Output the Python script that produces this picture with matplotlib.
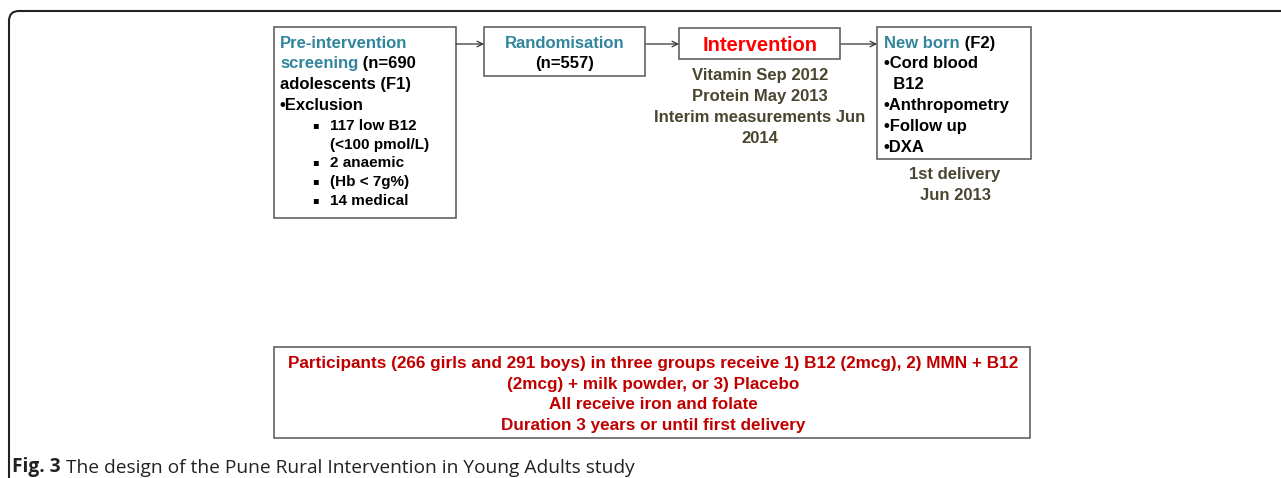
import matplotlib.pyplot as plt
from matplotlib.patches import Rectangle, FancyBboxPatch

# ---- text content ----
screen_head = "Pre-intervention"
screen_teal = "screening"
screen_black = " (n=690"
screen_lines = ["adolescents (F1)", "\u2022Exclusion"]
exclusions = [("\u25aa", "117 low B12"), ("", "(<100 pmol/L)"), ("\u25aa", "2 anaemic"),
              ("\u25aa", "(Hb < 7g%)"), ("\u25aa", "14 medical")]
rand_head = "Randomisation"
rand_n = "(n=557)"
interv_head = "Intervention"
interv_notes = ["Vitamin Sep 2012", "Protein May 2013", "Interim measurements Jun", "2014"]
newborn_teal = "New born"
newborn_black = " (F2)"
newborn_items = ["\u2022Cord blood", "  B12", "\u2022Anthropometry", "\u2022Follow up", "\u2022DXA"]
delivery_notes = ["1st delivery", "Jun 2013"]
groups_lines = ["Participants (266 girls and 291 boys) in three groups receive 1) B12 (2mcg), 2) MMN + B12",
                "(2mcg) + milk powder, or 3) Placebo",
                "All receive iron and folate",
                "Duration 3 years or until first delivery"]
caption_bold = "Fig. 3"
caption_rest = " The design of the Pune Rural Intervention in Young Adults study"

TEAL = "#31859c"
OLIVE = "#4a4530"
RED = "#ff0000"
DRED = "#c00000"
EDGE = "#555555"

W, H = 1281, 478
dpi = 100
fig = plt.figure(figsize=(W / dpi, H / dpi), dpi=dpi)
ax = fig.add_axes([0, 0, 1, 1])
ax.set_xlim(0, W)
ax.set_ylim(H, 0)
ax.axis("off")

sans = ["Liberation Sans", "DejaVu Sans"]

# outer rounded frame (runs off the right and bottom)
ax.add_patch(FancyBboxPatch((9, 11), 1400, 600, boxstyle="round,pad=0,rounding_size=10",
                            fill=False, ec="#222222", lw=1.5))

def box(x0, y0, x1, y1):
    ax.add_patch(Rectangle((x0, y0), x1 - x0, y1 - y0, fill=False, ec=EDGE, lw=1.1))

def arrow(x0, x1, y):
    ax.annotate("", xy=(x1, y), xytext=(x0, y),
                arrowprops=dict(arrowstyle="->", color="#333333", lw=0.9,
                                shrinkA=0, shrinkB=0, mutation_scale=10))

def two_tone(x, y, a, b, ca, cb, size):
    t = ax.text(x, y, a, color=ca, fontsize=size, fontweight="bold", family=sans,
                va="baseline", ha="left")
    ax.annotate(b, xy=(1, 0), xycoords=t, color=cb, fontsize=size, fontweight="bold",
                family=sans, va="bottom", ha="left")

# boxes
box(274, 27, 456, 218)
box(484, 27, 645, 76)
box(679, 28, 840, 59)
box(877, 27, 1031, 159)
box(274, 347, 1030, 438)

arrow(456, 484, 44)
arrow(646, 679, 44)
arrow(841, 877, 44)

# screening box
ax.text(280, 48, screen_head, color=TEAL, fontsize=12, fontweight="bold", family=sans)
two_tone(280, 68, screen_teal, screen_black, TEAL, "black", 12)
for i, s in enumerate(screen_lines):
    ax.text(280, 89 + 21 * i, s, color="black", fontsize=12, fontweight="bold", family=sans)
for i, (b, s) in enumerate(exclusions):
    y = 130 + 18.7 * i
    if b:
        ax.text(312, y - 2, b, color="black", fontsize=7, fontweight="bold", family=["DejaVu Sans"])
    ax.text(330, y, s, color="black", fontsize=11, fontweight="bold", family=sans)

# randomisation box
ax.text(565, 48, rand_head, color=TEAL, fontsize=12, fontweight="bold", family=sans, ha="center")
ax.text(565, 68, rand_n, color="black", fontsize=12, fontweight="bold", family=sans, ha="center")

# intervention box
ax.text(760, 51, interv_head, color=RED, fontsize=14.5, fontweight="bold", family=sans, ha="center")
for i, s in enumerate(interv_notes):
    ax.text(760, 80 + 21 * i, s, color=OLIVE, fontsize=12, fontweight="bold", family=sans, ha="center")

# newborn box
two_tone(884, 48, newborn_teal, newborn_black, TEAL, "black", 12)
for i, s in enumerate(newborn_items):
    ax.text(884, 68 + 21 * i, s, color="black", fontsize=12, fontweight="bold", family=sans)
for i, s in enumerate(delivery_notes):
    ax.text(955, 179 + 21 * i, s, color=OLIVE, fontsize=12, fontweight="bold", family=sans, ha="center")

# groups box
for i, s in enumerate(groups_lines):
    ax.text(653, 368 + 20.7 * i, s, color=DRED, fontsize=12.3, fontweight="bold", family=sans,
            ha="center")

# caption
cap = ax.text(12, 472, caption_bold, color="#222222", fontsize=13.8, fontweight="bold",
              family=["Open Sans", "DejaVu Sans"])
ax.annotate(caption_rest, xy=(1, 0), xycoords=cap, color="#222222", fontsize=13.8,
            family=["Open Sans", "DejaVu Sans"], va="bottom", ha="left")

fig.savefig("out.png", dpi=dpi)
